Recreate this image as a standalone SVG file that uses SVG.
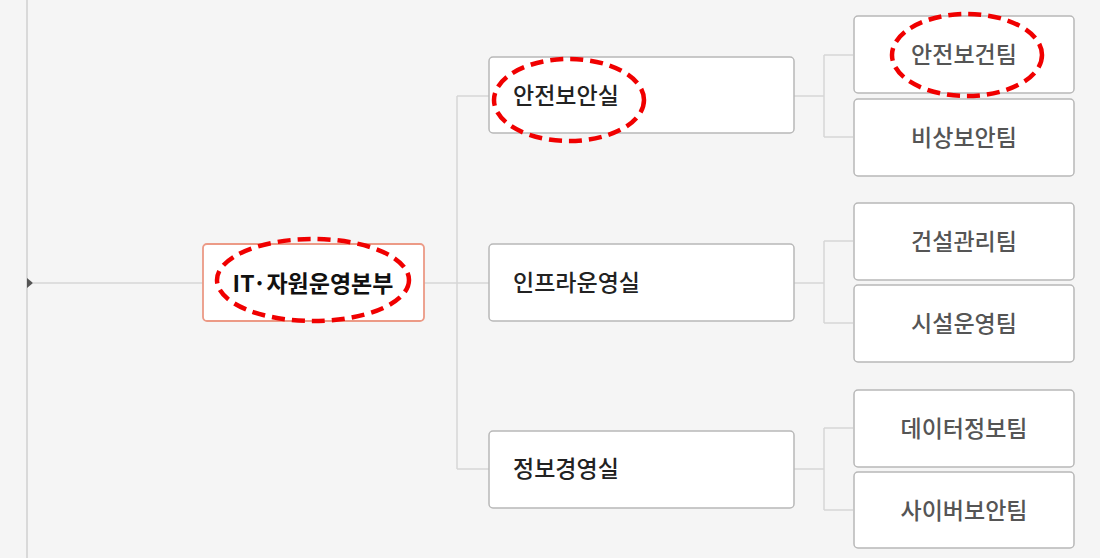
<svg xmlns="http://www.w3.org/2000/svg" width="1100" height="558" viewBox="0 0 1100 558">
<defs>
<style>
.bg{fill:#f5f5f5}
.box{fill:#fff;stroke:#b8b8b8;stroke-width:1.5}
.root{fill:#fff;stroke:#ec9a86;stroke-width:1.8}
.conn{fill:none;stroke:#d6d6d6;stroke-width:1.5}
.t{font-family:"Noto Sans CJK KR","Noto Sans",sans-serif;font-size:23px;font-weight:500}
.t2{fill:#222}
.t3{fill:#555;text-anchor:middle}
.tr{fill:#111;text-anchor:middle;font-weight:bold}
.mark{fill:none;stroke:#f00000;stroke-width:4.5;stroke-dasharray:13 7}
</style>
</defs>
<rect class="bg" x="0" y="0" width="1100" height="558"/>
<g id="connectors">
<line x1="27" y1="0" x2="27" y2="558" stroke="#cfcfcf" stroke-width="1.5"/>
<polygon points="27,278 33,283 27,288" fill="#555"/>
<path class="conn" d="M33 283 H203"/>
<path class="conn" d="M424 283 H457 M457 96 V469 M457 96 H489 M457 283 H489 M457 469 H489"/>
<path class="conn" d="M794 96 H824 M824 55 V137 M824 55 H853 M824 137 H853"/>
<path class="conn" d="M794 283 H824 M824 241 V323 M824 241 H853 M824 323 H853"/>
<path class="conn" d="M794 469 H824 M824 428 V510 M824 428 H853 M824 510 H853"/>
</g>
<g id="root">
<rect class="root" x="203" y="244" width="221" height="77" rx="4"/>
<text class="t tr" x="313" y="292">IT·자원운영본부</text>
</g>
<g id="n-safety">
<rect class="box" x="489" y="57" width="305" height="76" rx="4"/>
<text class="t t2" x="513" y="104">안전보안실</text>
</g>
<g id="n-infra">
<rect class="box" x="489" y="244" width="305" height="77" rx="4"/>
<text class="t t2" x="513" y="291">인프라운영실</text>
</g>
<g id="n-info">
<rect class="box" x="489" y="431" width="305" height="77" rx="4"/>
<text class="t t2" x="513" y="477">정보경영실</text>
</g>
<g id="c-health">
<rect class="box" x="854" y="16" width="220" height="77" rx="4"/>
<text class="t t3" x="964" y="63">안전보건팀</text>
</g>
<g id="c-emergency">
<rect class="box" x="854" y="99" width="220" height="77" rx="4"/>
<text class="t t3" x="964" y="146">비상보안팀</text>
</g>
<g id="c-construct">
<rect class="box" x="854" y="203" width="220" height="77" rx="4"/>
<text class="t t3" x="964" y="250">건설관리팀</text>
</g>
<g id="c-facility">
<rect class="box" x="854" y="285" width="220" height="77" rx="4"/>
<text class="t t3" x="964" y="332">시설운영팀</text>
</g>
<g id="c-data">
<rect class="box" x="854" y="390" width="220" height="77" rx="4"/>
<text class="t t3" x="964" y="437">데이터정보팀</text>
</g>
<g id="c-cyber">
<rect class="box" x="854" y="472" width="220" height="76" rx="4"/>
<text class="t t3" x="964" y="519">사이버보안팀</text>
</g>
<g id="highlights">
<ellipse class="mark" cx="313" cy="280" rx="96" ry="41"/>
<ellipse class="mark" cx="569" cy="100" rx="75" ry="41"/>
<ellipse class="mark" cx="967" cy="55" rx="75" ry="41"/>
</g>
</svg>
